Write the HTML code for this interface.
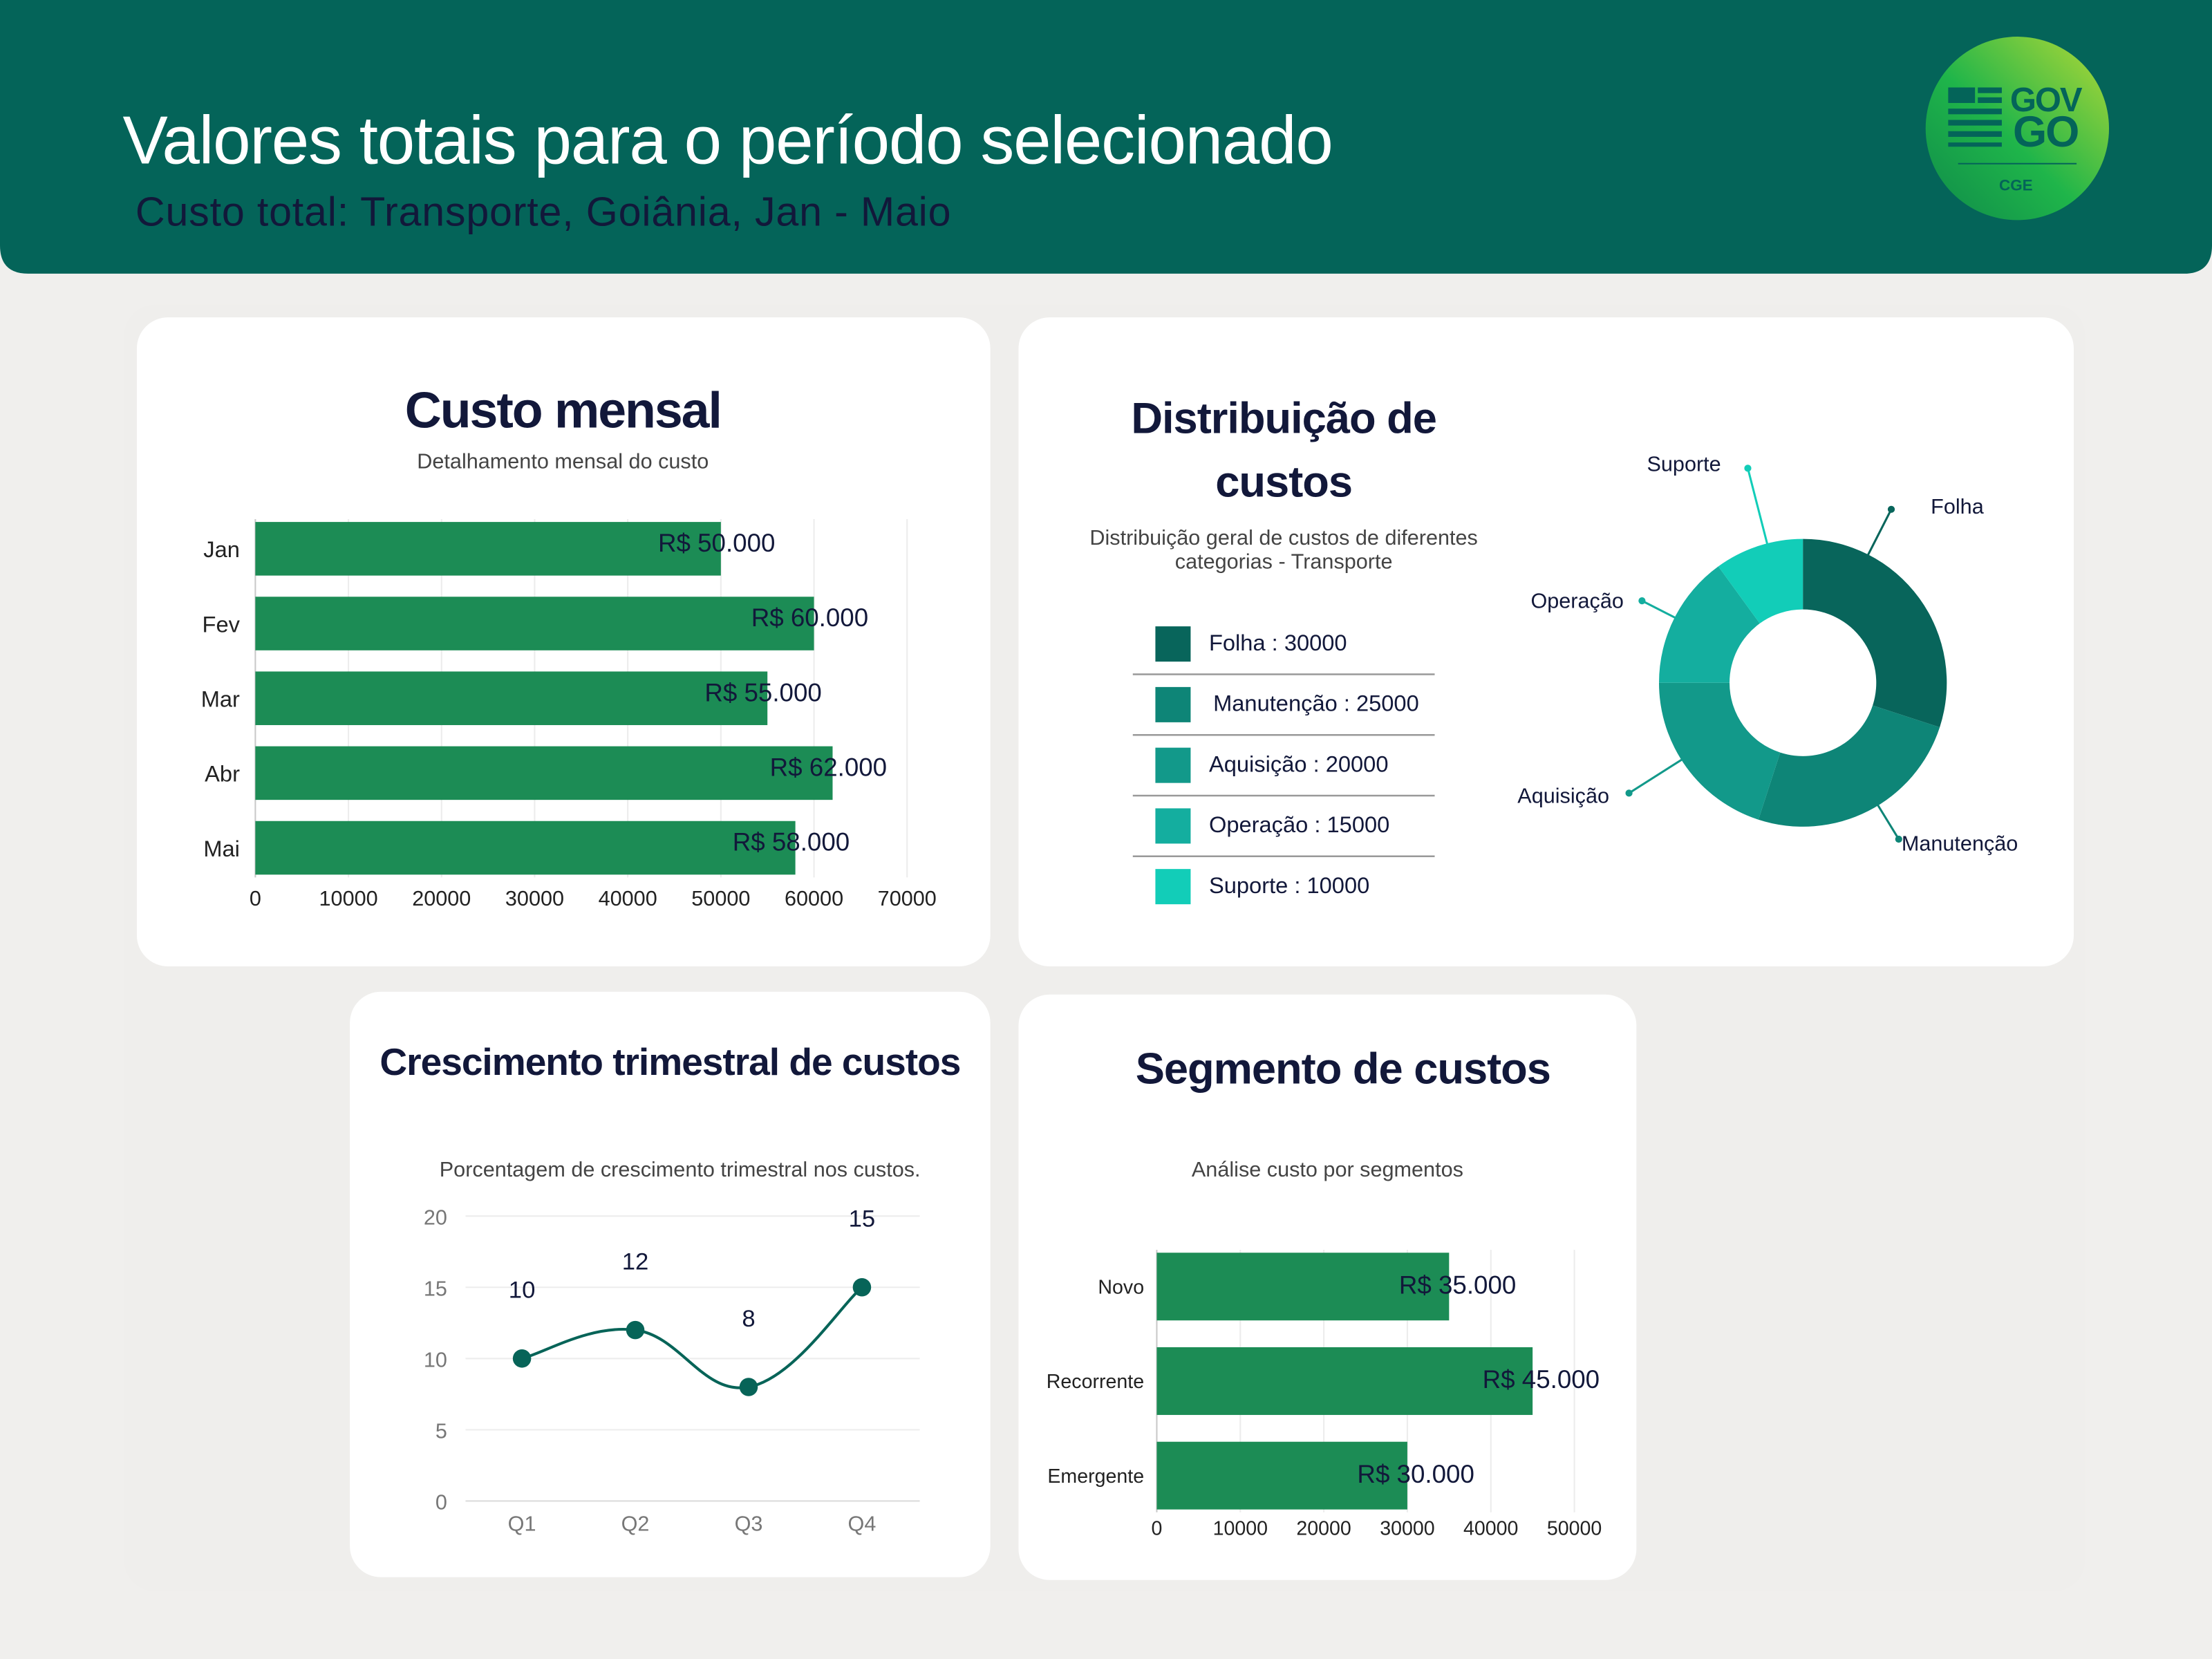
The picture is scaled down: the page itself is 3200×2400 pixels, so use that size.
<!DOCTYPE html>
<html><head><meta charset="utf-8"><style>
html,body{margin:0;padding:0;background:#f0efed;}
svg{display:block;font-family:"Liberation Sans",sans-serif;}
</style></head><body>
<svg id="root" width="3200" height="2400" viewBox="0 0 1568 1176" xmlns="http://www.w3.org/2000/svg">
<defs>
<linearGradient id="lg" x1="0" y1="1" x2="1" y2="0">
<stop offset="0" stop-color="#0f8a4a"/><stop offset="0.45" stop-color="#1fb54a"/><stop offset="1" stop-color="#b5d936"/>
</linearGradient>
</defs>
<rect x="0" y="0" width="1568" height="1176" fill="#f0efed"/>
<path d="M0 0 H1568 V174 Q1568 194 1548 194 H20 Q0 194 0 174 Z" fill="#046459"/>
<text x="87" y="116" font-size="48" fill="#ffffff" letter-spacing="-0.6">Valores totais para o período selecionado</text>
<text x="96" y="160" font-size="29" fill="#12183a" letter-spacing="0.4">Custo total: Transporte, Goiânia, Jan - Maio</text>
<g>
<circle cx="1430" cy="91" r="65" fill="url(#lg)"/>
<text x="1450" y="79" font-size="24" font-weight="bold" fill="#046459" text-anchor="middle" letter-spacing="-1">GOV</text>
<text x="1450" y="104" font-size="31" font-weight="bold" fill="#046459" text-anchor="middle" letter-spacing="-1">GO</text>
<g fill="#046459">
<rect x="1381" y="62" width="19" height="11"/>
<rect x="1381" y="77" width="38" height="4"/>
<rect x="1381" y="85" width="38" height="4"/>
<rect x="1381" y="93" width="38" height="4"/>
<rect x="1381" y="101" width="38" height="3"/>
<rect x="1402" y="62" width="17" height="4"/>
<rect x="1402" y="69" width="17" height="4"/>
</g>
<line x1="1388" y1="116" x2="1472" y2="116" stroke="#046459" stroke-width="1"/>
<text x="1429" y="135" font-size="11" font-weight="bold" fill="#046459" text-anchor="middle">CGE</text>
</g>
<rect x="88" y="216" width="1390" height="912" rx="22" fill="#efeeec"/>
<rect x="97" y="225" width="605" height="460" rx="22" fill="#fff"/>
<rect x="722" y="225" width="748" height="460" rx="22" fill="#fff"/>
<rect x="248" y="703" width="454" height="415" rx="22" fill="#fff"/>
<rect x="722" y="705" width="438" height="415" rx="22" fill="#fff"/>

<text x="399" y="303" font-size="36" font-weight="bold" fill="#12183a" text-anchor="middle" letter-spacing="-1">Custo mensal</text>
<text x="399" y="332" font-size="15" fill="#444" text-anchor="middle">Detalhamento mensal do custo</text>
<g id="c1"></g>

<text x="910" y="307" font-size="31" font-weight="bold" fill="#12183a" text-anchor="middle" letter-spacing="-0.5">Distribuição de</text>
<text x="910" y="352" font-size="31" font-weight="bold" fill="#12183a" text-anchor="middle" letter-spacing="-0.5">custos</text>
<text x="910" y="386" font-size="15" fill="#444" text-anchor="middle">Distribuição geral de custos de diferentes</text>
<text x="910" y="403" font-size="15" fill="#444" text-anchor="middle">categorias - Transporte</text>
<g id="c2"></g>

<text x="475" y="762" font-size="27" font-weight="bold" fill="#12183a" text-anchor="middle" letter-spacing="-0.5">Crescimento trimestral de custos</text>
<text x="482" y="834" font-size="15" fill="#444" text-anchor="middle">Porcentagem de crescimento trimestral nos custos.</text>
<g id="c3"></g>

<text x="952" y="768" font-size="31" font-weight="bold" fill="#12183a" text-anchor="middle" letter-spacing="-0.5">Segmento de custos</text>
<text x="941" y="834" font-size="15" fill="#444" text-anchor="middle">Análise custo por segmentos</text>
<g id="c4"></g>
</svg>
<script>
const months = ["Jan","Fev","Mar","Abr","Mai"];
const monthCosts = [50000,60000,55000,62000,58000];
const monthTicks = [0,10000,20000,30000,40000,50000,60000,70000];
const categories = ["Folha","Manutenção","Aquisição","Operação","Suporte"];
const categoryValues = [30000,25000,20000,15000,10000];
const quarters = ["Q1","Q2","Q3","Q4"];
const growthValues = [10,12,8,15];
const growthTicks = [0,5,10,15,20];
const segments = ["Novo","Recorrente","Emergente"];
const segmentValues = [35000,45000,30000];
const segmentTicks = [0,10000,20000,30000,40000,50000];

const NS="http://www.w3.org/2000/svg";
function mk(parent,tag,attrs,txt){const e=document.createElementNS(NS,tag);for(const k in attrs)e.setAttribute(k,attrs[k]);if(txt!==undefined)e.textContent=txt;parent.appendChild(e);return e;}
function fmt(v){return "R$ "+String(v).replace(/\B(?=(\d{3})+(?!\d))/g,".");}

// Chart 1
(function(){
 const g=document.getElementById("c1");
 const x0=181,x1=643,xmax=70000,top=370,step=53,bh=38;
 const X=v=>x0+(v/xmax)*(x1-x0);
 monthTicks.forEach(t=>{
  const l=mk(g,"line",{x1:X(t),x2:X(t),y1:368,y2:622,stroke:t===0?"#c8c8c8":"#ececec","stroke-width":1});
  
  
  const tx=mk(g,"text",{x:X(t),y:642,"font-size":15,fill:"#222","text-anchor":"middle"},String(t));
  
  
 });
 months.forEach((m,i)=>{
  const y=top+i*step;
  const r=mk(g,"rect",{x:x0,y:y,width:X(monthCosts[i])-x0,height:bh,fill:"#1c8c55"});
  
  
  const lb=mk(g,"text",{x:170,y:y+bh/2+6,"font-size":16,fill:"#222","text-anchor":"end"},m);
  
  
  const v=mk(g,"text",{x:X(monthCosts[i])-3,y:y+bh/2+2,"font-size":18,fill:"#12183a","text-anchor":"middle"},fmt(monthCosts[i]));
  
  
 });
})();

// Chart 2 donut + legend
(function(){
 const g=document.getElementById("c2");
 const colors=["#08655b","#0e8577","#12998a","#14ae9f","#12cdb8"];
 const cx=1278,cy=484,R=102,r=52;
 // leader styling per slice: angle fraction within slice, length, label offset
 const leader=[{f:0.25,len:36,dx:28,dy:3,anchor:"start"},{f:0.45,len:28,dx:2,dy:8,anchor:"start"},{f:0.55,len:44,dx:-14,dy:7,anchor:"end"},{f:0.5,len:26,dx:-13,dy:5,anchor:"end"},{f:0.6,len:55,dx:-19,dy:2,anchor:"end"}];
 const total=categoryValues.reduce((a,b)=>a+b,0);
 let a=0;
 categoryValues.forEach((v,i)=>{
  const a0=a, a1=a+v/total*2*Math.PI; a=a1;
  const p=(ang,rad)=>[cx+rad*Math.sin(ang),cy-rad*Math.cos(ang)];
  const [x0,y0]=p(a0,R),[x1,y1]=p(a1,R),[x2,y2]=p(a1,r),[x3,y3]=p(a0,r);
  const lg=(a1-a0)>Math.PI?1:0;
  const s=mk(g,"path",{d:`M${x0} ${y0} A${R} ${R} 0 ${lg} 1 ${x1} ${y1} L${x2} ${y2} A${r} ${r} 0 ${lg} 0 ${x3} ${y3} Z`,fill:colors[i]});
  
  
  const L=leader[i];
  const mid=a0+(a1-a0)*L.f;
  const [ex,ey]=p(mid,R-1),[ox,oy]=p(mid,R+L.len);
  const ln=mk(g,"line",{x1:ex,y1:ey,x2:ox,y2:oy,stroke:colors[i],"stroke-width":1.5});
  
  
  const d=mk(g,"circle",{cx:ox,cy:oy,r:2.5,fill:colors[i]});
  
  
  const t=mk(g,"text",{x:ox+L.dx,y:oy+L.dy,"font-size":15,fill:"#12183a","text-anchor":L.anchor},categories[i]);
  
  
  const ly=444+i*43;
  const sq=mk(g,"rect",{x:819,y:ly,width:25,height:25,fill:colors[i]});
  
  
  const lt=mk(g,"text",{x:i===1?860:857,y:ly+17,"font-size":16,fill:"#12183a"},categories[i]+" : "+v);
  
  
  if(i<4){const sp=mk(g,"line",{x1:803,x2:1017,y1:ly+34,y2:ly+34,stroke:"#999","stroke-width":1.2});
   
   }
 });
})();

// Chart 3 line
(function(){
 const g=document.getElementById("c3");
 const xs0=370,xs1=611,y0=1064,y20=862;
 const X=i=>xs0+i*(xs1-xs0)/(quarters.length-1);
 const Y=v=>y0-(v/20)*(y0-y20);
 growthTicks.forEach(t=>{
  const l=mk(g,"line",{x1:330,x2:652,y1:Y(t),y2:Y(t),stroke:t===0?"#dcdcdc":"#ededed","stroke-width":1});
  
  
  const tx=mk(g,"text",{x:317,y:Y(t)+6,"font-size":15,fill:"#777","text-anchor":"end"},String(t));
  
  
 });
 quarters.forEach((q,i)=>{
  const t=mk(g,"text",{x:X(i),y:1085,"font-size":15,fill:"#777","text-anchor":"middle"},q);
  
  
 });
 const pts=growthValues.map((v,i)=>[X(i),Y(v)]);
 let d=`M${pts[0][0]} ${pts[0][1]}`;
 for(let i=0;i<pts.length-1;i++){
  const p0=pts[Math.max(i-1,0)],p1=pts[i],p2=pts[i+1],p3=pts[Math.min(i+2,pts.length-1)];
  const t=0.2;
  const c1=[p1[0]+(p2[0]-p0[0])*t,p1[1]+(p2[1]-p0[1])*t];
  const c2=[p2[0]-(p3[0]-p1[0])*t,p2[1]-(p3[1]-p1[1])*t];
  d+=` C${c1[0]} ${c1[1]} ${c2[0]} ${c2[1]} ${p2[0]} ${p2[1]}`;
 }
 const path=mk(g,"path",{d:d,fill:"none",stroke:"#076458","stroke-width":2});
 
 
 pts.forEach((p,i)=>{
  const c=mk(g,"circle",{cx:p[0],cy:p[1],r:6.5,fill:"#076458"});
  
  
  const t=mk(g,"text",{x:p[0],y:p[1]-43,"font-size":17,fill:"#12183a","text-anchor":"middle"},String(growthValues[i]));
  
  
 });
})();

// Chart 4 segments
(function(){
 const g=document.getElementById("c4");
 const x0=820,x1=1116,xmax=50000,top=888,step=67,bh=48;
 const X=v=>x0+(v/xmax)*(x1-x0);
 segmentTicks.forEach(t=>{
  const l=mk(g,"line",{x1:X(t),x2:X(t),y1:886,y2:1072,stroke:t===0?"#c8c8c8":"#ececec","stroke-width":1});
  
  
  const tx=mk(g,"text",{x:X(t),y:1088,"font-size":14,fill:"#222","text-anchor":"middle"},String(t));
  
  
 });
 segments.forEach((s,i)=>{
  const y=top+i*step;
  const r=mk(g,"rect",{x:x0,y:y,width:X(segmentValues[i])-x0,height:bh,fill:"#1c8c55"});
  
  
  const lb=mk(g,"text",{x:811,y:y+bh/2+5,"font-size":14,fill:"#222","text-anchor":"end"},s);
  
  
  const v=mk(g,"text",{x:X(segmentValues[i])+6,y:y+bh/2+5,"font-size":18,fill:"#12183a","text-anchor":"middle"},fmt(segmentValues[i]));
  
  
 });
})();
</script>
</body></html>
